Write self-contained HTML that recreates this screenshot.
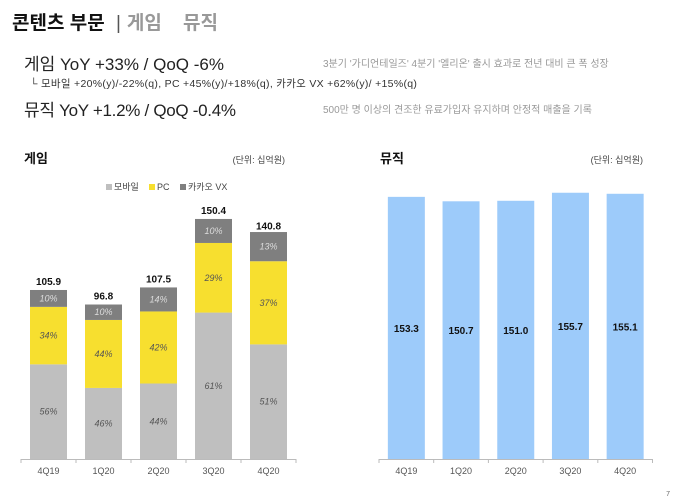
<!DOCTYPE html>
<html><head><meta charset="utf-8"><style>
body{margin:0;width:678px;height:503px;background:#fff;overflow:hidden;font-family:"Liberation Sans","Noto Sans CJK KR",sans-serif;position:relative}
.a{position:absolute;white-space:nowrap}
</style></head><body>
<div class="a" style="left:12px;top:8px;font-size:19px;font-weight:bold;color:#111">콘텐츠 부문 <span style="font-weight:normal;color:#555;margin:0 6px">|</span><span style="color:#999">게임&nbsp;&nbsp;&nbsp;&nbsp;뮤직</span></div>
<div class="a" style="left:24px;top:50px;font-size:17px;color:#222">게임 YoY +33% / QoQ -6%</div>
<div class="a" style="left:323px;top:55px;font-size:10px;color:#999">3분기 '가디언테일즈' 4분기 '엘리온' 출시 효과로 전년 대비 큰 폭 성장</div>
<div class="a" style="left:30px;top:76px;font-size:10.5px;letter-spacing:0.3px;color:#333">└ 모바일 +20%(y)/-22%(q), PC +45%(y)/+18%(q), 카카오 VX +62%(y)/ +15%(q)</div>
<div class="a" style="left:24px;top:96px;font-size:17px;letter-spacing:-0.3px;color:#222">뮤직 YoY +1.2% / QoQ -0.4%</div>
<div class="a" style="left:323px;top:101px;font-size:10px;color:#999">500만 명 이상의 견조한 유료가입자 유지하며 안정적 매출을 기록</div>
<svg class="a" style="left:0;top:0" width="678" height="503" id="svg">
<text x="24" y="163" font-size="13" font-weight="bold" fill="#111">게임</text>
<text x="285" y="163" font-size="9" fill="#444" text-anchor="end">(단위: 십억원)</text>
<text x="380" y="163" font-size="13" font-weight="bold" fill="#111">뮤직</text>
<text x="643" y="163" font-size="9" fill="#444" text-anchor="end">(단위: 십억원)</text>
<g font-size="9" fill="#444">
<rect x="106" y="184" width="6" height="6" fill="#bfbfbf"/><text x="114" y="190">모바일</text>
<rect x="149" y="184" width="6" height="6" fill="#f7df2f"/><text x="157" y="190">PC</text>
<rect x="180" y="184" width="6" height="6" fill="#7f7f7f"/><text x="188" y="190">카카오 VX</text>
</g>
<text x="670" y="496" font-size="7" fill="#666" text-anchor="end">7</text>
</svg>
<script>
const categories=["4Q19","1Q20","2Q20","3Q20","4Q20"];
const gameTotals=[105.9,96.8,107.5,150.4,140.8];
const mobilePct=[56,46,44,61,51];
const pcPct=[34,44,42,29,37];
const vxPct=[10,10,14,10,13];
const musicValues=[153.3,150.7,151.0,155.7,155.1];
const NS="http://www.w3.org/2000/svg",svg=document.getElementById('svg');
function mk(t,a,p){const e=document.createElementNS(NS,t);for(const k in a)e.setAttribute(k,a[k]);(p||svg).appendChild(e);return e;}
const base=459;
function gx(i){return 21+55*i+27.5;} function gy(v){return base-v*1.596;}
function mx(i){return 379+54.7*i+27.35;} function my(v){return base-v*1.71;}
function axis(x0,step,name){
 const g=mk('g',{});
 
 
 mk('line',{x1:x0,x2:x0+step*5,y1:base+0.5,y2:base+0.5,stroke:'#bbb'},g);
 for(let i=0;i<=5;i++)mk('line',{x1:x0+step*i,x2:x0+step*i,y1:base,y2:base+4,stroke:'#bbb'},g);
 categories.forEach((c,i)=>{const t=mk('text',{x:x0+step*i+step/2,y:base+15,'font-size':9,fill:'#555','text-anchor':'middle'},g);t.textContent=c;});
}
const segs=[[mobilePct,'#bfbfbf','#555','mobile'],[pcPct,'#f7df2f','#555','pc'],[vxPct,'#7f7f7f','#ddd','vx']];
categories.forEach((c,i)=>{
 let acc=0;const tot=gameTotals[i],w=37,x=gx(i)-w/2;
 segs.forEach(([arr,col,tc,nm])=>{
  const v0=tot*acc/100,v1=tot*(acc+arr[i])/100;acc+=arr[i];
  const r=mk('rect',{x:x,y:gy(v1),width:w,height:gy(v0)-gy(v1),fill:col});
  
  
  const t=mk('text',{x:gx(i),y:(gy(v0)+gy(v1))/2+3,'font-size':9,'font-style':'italic',fill:tc,'text-anchor':'middle'});
  t.textContent=arr[i]+'%';
 });
 const t=mk('text',{x:gx(i),y:gy(tot)-5,'font-size':10,'font-weight':'bold',fill:'#111','text-anchor':'middle'});
 
 
 t.textContent=tot.toFixed(1);
 const r=mk('rect',{x:mx(i)-18.5,y:my(musicValues[i]),width:37,height:base-my(musicValues[i]),fill:'#9dcbfa'});
 
 
 const m=mk('text',{x:mx(i),y:(my(musicValues[i])+base)/2+4,'font-size':10,'font-weight':'bold',fill:'#111','text-anchor':'middle'});
 m.textContent=musicValues[i].toFixed(1);
});
axis(21,55,'game-x-axis');axis(379,54.7,'music-x-axis');
</script>
</body></html>
